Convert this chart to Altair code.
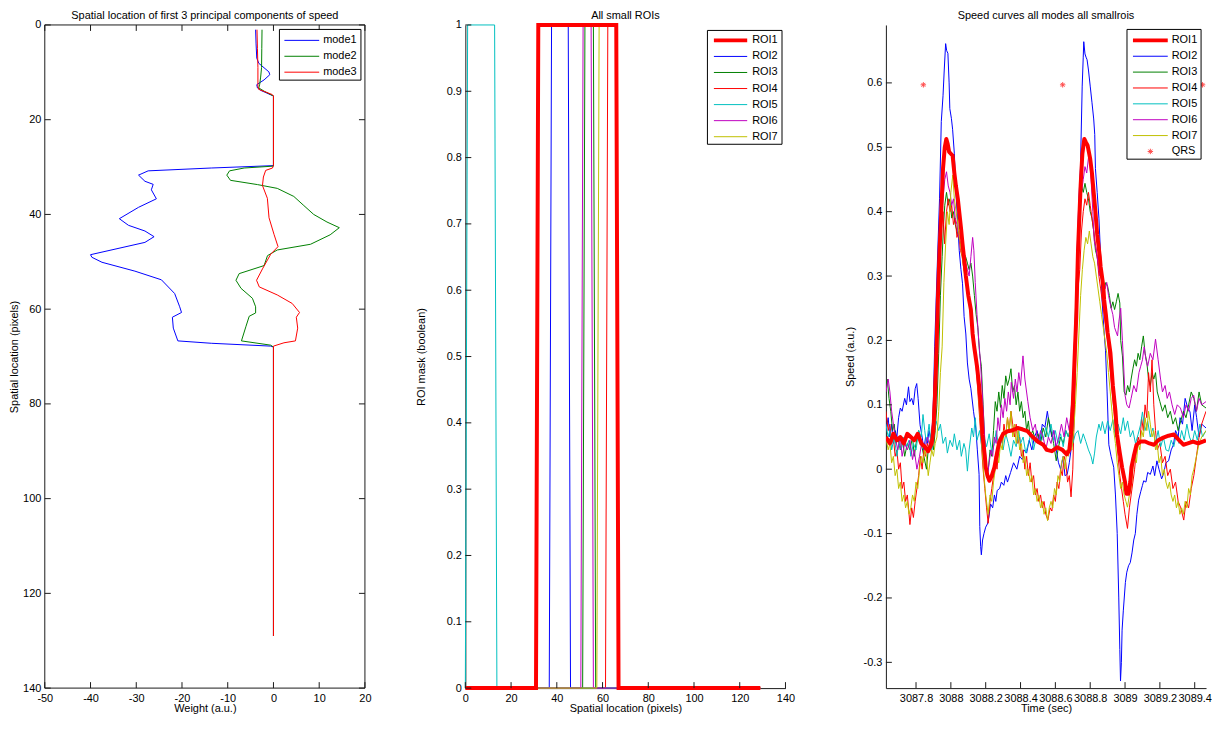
import altair as alt
import pandas as pd

FONT = "Liberation Sans"
AXC = "#1a1a1a"
W, H = 322, 667
TK = 6

# ---------------- Panel 1: spatial weights (location, weight) ----------------
mode1 = [(1, -3.9), (4, -3.8), (7, -3.65), (8.1, -3.2), (9.9, -1.0), (10.5, -0.8), (11.6, -2.05),
         (12.6, -3.65), (13.3, -3.5), (13.8, -2.8), (15, 0), (29.7, 0), (30.2, -13.6), (30.8, -27.4),
         (31.7, -29.5), (33.0, -28.1), (33.65, -26.3), (34.8, -26.7), (36.7, -25.6), (38.5, -29.5),
         (40.9, -33.7), (42.3, -31.7), (43.5, -28.1), (44.7, -26.1), (45.9, -28.1), (48.5, -40.0),
         (49.05, -39.7), (50.1, -37.5), (51.97, -30.3), (53.8, -24.5), (56.7, -21.6), (59.5, -20.5),
         (60.7, -20.1), (61.7, -22.1), (64.0, -21.9), (66.7, -20.9), (67.2, -13.6), (67.8, -0.6),
         (68, 0), (129, 0)]
mode2 = [(1, -2.5), (5, -2.55), (9, -2.6), (11, -2.8), (12.5, -3.0), (13.3, -3.2), (14.0, -2.0),
         (15, 0), (29.8, 0), (30.2, -6.4), (30.8, -9.6), (31.7, -10.2), (32.8, -9.4), (33.7, -3.5),
         (34.5, 0.84), (36.2, 4.45), (38, 6.5), (40.0, 8.8), (41.6, 11.7), (42.8, 14.4), (44.3, 12.4),
         (46.3, 8.1), (47.5, 0.84), (48.7, -1.3), (50.8, -2.05), (52.5, -7.5), (53.9, -8.2),
         (55.6, -7.1), (57.7, -4.6), (59.5, -3.9), (60.8, -3.9), (61.5, -5.3), (63.6, -6.0),
         (66.7, -7.0), (67.6, -0.6), (68, 0), (129, 0)]
mode3 = [(1, -3.6), (5, -3.5), (9, -3.4), (13, -3.4), (13.6, -3.2), (14.7, -0.25), (15, 0),
         (29.6, 0), (30.2, -0.2), (30.7, -1.7), (32.1, -2.2), (33.9, -2.4), (36.6, -1.33),
         (40.7, -0.97), (44.2, 0.12), (46.8, 1.0), (48.4, -0.6), (51.5, -2.4), (53.9, -3.7),
         (55.3, -3.1), (57.0, 0.84), (58.8, 4.1), (60.7, 5.7), (61.7, 5.0), (64.0, 5.3), (66.7, 4.8),
         (67.1, 2.3), (67.8, 0), (129, 0)]
mode_names = ["mode1", "mode2", "mode3"]
mode_colors = ["#0000FF", "#008000", "#FF0000"]
p1_xticks = [-50, -40, -30, -20, -10, 0, 10, 20]
p1_yticks = [0, 20, 40, 60, 80, 100, 120, 140]

# ---------------- Panel 2: ROI masks ----------------
roi_names = ["ROI1", "ROI2", "ROI3", "ROI4", "ROI5", "ROI6", "ROI7"]
roi_colors = ["#FF0000", "#0000FF", "#008000", "#FF0000", "#00BFBF", "#BF00BF", "#BFBF00"]
roi_widths = [4, 1, 1, 1, 1, 1, 1]
roi_on = [31.9, 37.7, 52.3, 62.3, 1.0, 51.5, 58.5]     # first location at 1
roi_off = [66.0, 45.0, 56.0, 66.0, 12.8, 55.0, 66.0]   # last location at 1
roi_last = 129
p2_xticks = [0, 20, 40, 60, 80, 100, 120, 140]
p2_yticks = [0, 0.1, 0.2, 0.3, 0.4, 0.5, 0.6, 0.7, 0.8, 0.9, 1]

# ---------------- Panel 3: speed curves (time offset from 3087 s, speed) ----------------
T0 = 3087.0
roi1 = [(0.627, 0.050), (0.650, 0.040), (0.670, 0.055), (0.690, 0.045), (0.710, 0.050), (0.730, 0.040),
        (0.750, 0.055), (0.770, 0.050), (0.790, 0.045), (0.810, 0.055), (0.830, 0.040), (0.850, 0.035),
        (0.870, 0.028), (0.890, 0.040), (0.900, 0.060), (0.910, 0.120), (0.918, 0.187), (0.925, 0.260),
        (0.935, 0.340), (0.945, 0.400), (0.955, 0.467), (0.965, 0.500), (0.974, 0.513), (0.982, 0.505),
        (0.990, 0.493), (1.000, 0.490), (1.010, 0.487), (1.020, 0.460), (1.029, 0.440), (1.040, 0.420),
        (1.048, 0.400), (1.058, 0.375), (1.067, 0.350), (1.077, 0.325), (1.086, 0.300), (1.100, 0.270),
        (1.115, 0.248), (1.125, 0.210), (1.134, 0.190), (1.150, 0.160), (1.162, 0.130), (1.175, 0.090),
        (1.181, 0.054), (1.195, 0.020), (1.200, 0.003), (1.210, -0.010), (1.221, -0.018), (1.235, -0.010),
        (1.250, 0.003), (1.265, 0.025), (1.278, 0.043), (1.300, 0.055), (1.326, 0.059), (1.350, 0.060),
        (1.383, 0.064), (1.410, 0.062), (1.440, 0.059), (1.470, 0.050), (1.498, 0.043), (1.530, 0.038),
        (1.550, 0.030), (1.580, 0.028), (1.610, 0.034), (1.640, 0.030), (1.665, 0.023), (1.680, 0.030),
        (1.690, 0.054), (1.700, 0.100), (1.710, 0.170), (1.720, 0.237), (1.730, 0.340), (1.745, 0.440),
        (1.755, 0.490), (1.766, 0.513), (1.775, 0.508), (1.785, 0.503), (1.800, 0.482), (1.810, 0.460),
        (1.820, 0.430), (1.830, 0.400), (1.840, 0.365), (1.855, 0.330), (1.860, 0.314), (1.875, 0.285),
        (1.880, 0.263), (1.890, 0.240), (1.900, 0.212), (1.916, 0.181), (1.930, 0.130), (1.945, 0.090),
        (1.954, 0.054), (1.970, 0.025), (1.983, 0.003), (2.000, -0.020), (2.008, -0.038), (2.020, -0.038),
        (2.030, -0.020), (2.037, 0.003), (2.050, 0.020), (2.066, 0.038), (2.090, 0.043), (2.115, 0.043),
        (2.140, 0.040), (2.166, 0.038), (2.190, 0.045), (2.220, 0.049), (2.250, 0.052), (2.280, 0.054),
        (2.310, 0.045), (2.335, 0.038), (2.360, 0.040), (2.390, 0.043), (2.420, 0.040), (2.465, 0.045)]
roi2 = [(0.627, 0.06), (0.64, 0.08), (0.65, 0.05), (0.66, 0.07), (0.67, 0.04), (0.68, 0.06), (0.69, 0.05),
        (0.70, 0.08), (0.71, 0.095), (0.72, 0.09), (0.735, 0.11), (0.745, 0.10), (0.757, 0.128),
        (0.765, 0.105), (0.775, 0.11), (0.785, 0.10), (0.795, 0.125), (0.804, 0.133), (0.812, 0.11),
        (0.823, 0.069), (0.835, 0.05), (0.845, 0.03), (0.855, 0.05), (0.865, 0.04), (0.875, 0.06),
        (0.885, 0.045), (0.897, 0.08), (0.907, 0.19), (0.92, 0.30), (0.935, 0.42), (0.945, 0.54),
        (0.955, 0.58), (0.962, 0.62), (0.97, 0.661), (0.976, 0.65), (0.983, 0.646), (0.99, 0.60),
        (0.994, 0.56), (1.003, 0.545), (1.01, 0.528), (1.02, 0.49), (1.029, 0.43), (1.04, 0.38),
        (1.048, 0.34), (1.058, 0.31), (1.067, 0.288), (1.076, 0.237), (1.086, 0.21), (1.095, 0.165),
        (1.105, 0.14), (1.115, 0.125), (1.13, 0.09), (1.143, 0.064), (1.152, 0.03), (1.162, -0.008),
        (1.166, -0.089), (1.171, -0.12), (1.175, -0.133), (1.182, -0.11), (1.19, -0.10), (1.20, -0.09),
        (1.21, -0.085), (1.218, -0.075), (1.228, -0.054), (1.24, -0.06), (1.25, -0.04), (1.258, -0.05),
        (1.266, -0.033), (1.28, -0.03), (1.29, -0.02), (1.304, -0.025), (1.315, -0.01), (1.325, -0.02),
        (1.343, -0.005), (1.36, 0.01), (1.379, 0.0), (1.395, 0.02), (1.41, 0.015), (1.419, 0.03),
        (1.435, 0.025), (1.45, 0.045), (1.465, 0.03), (1.48, 0.05), (1.495, 0.06), (1.51, 0.04),
        (1.525, 0.07), (1.54, 0.065), (1.554, 0.09), (1.565, 0.07), (1.58, 0.05), (1.592, 0.06),
        (1.605, 0.03), (1.618, 0.01), (1.63, 0.0), (1.645, 0.02), (1.655, -0.01), (1.668, -0.008),
        (1.68, 0.01), (1.69, 0.03), (1.703, 0.05), (1.71, 0.12), (1.715, 0.187), (1.725, 0.34),
        (1.735, 0.42), (1.744, 0.467), (1.754, 0.595), (1.76, 0.64), (1.763, 0.664), (1.77, 0.645),
        (1.776, 0.64), (1.782, 0.636), (1.79, 0.62), (1.80, 0.595), (1.81, 0.57), (1.82, 0.544),
        (1.826, 0.52), (1.83, 0.467), (1.84, 0.43), (1.85, 0.39), (1.86, 0.33), (1.868, 0.263),
        (1.878, 0.22), (1.888, 0.184), (1.897, 0.12), (1.907, 0.038), (1.92, 0.02), (1.935, 0.003),
        (1.945, -0.04), (1.955, -0.10), (1.964, -0.20), (1.97, -0.28), (1.974, -0.329), (1.979, -0.30),
        (1.983, -0.25), (1.99, -0.22), (2.002, -0.176), (2.01, -0.16), (2.02, -0.15), (2.03, -0.145),
        (2.04, -0.13), (2.05, -0.11), (2.059, -0.10), (2.068, -0.07), (2.078, -0.048), (2.09, -0.035),
        (2.10, -0.025), (2.107, -0.018), (2.12, -0.02), (2.13, -0.005), (2.145, -0.008), (2.16, 0.005),
        (2.17, -0.01), (2.183, 0.013), (2.195, 0.0), (2.21, -0.015), (2.22, -0.008), (2.235, 0.01),
        (2.25, 0.013), (2.265, 0.03), (2.278, 0.038), (2.29, 0.06), (2.305, 0.05), (2.316, 0.08),
        (2.33, 0.07), (2.345, 0.11), (2.36, 0.095), (2.373, 0.089), (2.385, 0.06), (2.40, 0.10),
        (2.411, 0.08), (2.425, 0.05), (2.44, 0.07), (2.465, 0.064)]
roi3 = [(0.627, 0.13), (0.635, 0.14), (0.645, 0.11), (0.655, 0.09), (0.665, 0.06), (0.675, 0.07),
        (0.685, 0.04), (0.695, 0.05), (0.71, 0.03), (0.72, 0.05), (0.735, 0.02), (0.75, 0.04), (0.765, 0.03),
        (0.78, 0.05), (0.79, 0.02), (0.80, 0.04), (0.815, 0.06), (0.83, 0.04), (0.845, 0.02), (0.86, 0.0),
        (0.87, 0.03), (0.885, 0.05), (0.90, 0.03), (0.91, 0.06), (0.92, 0.10), (0.93, 0.18), (0.94, 0.27),
        (0.95, 0.33), (0.958, 0.38), (0.965, 0.41), (0.975, 0.43), (0.985, 0.41), (0.995, 0.42),
        (1.005, 0.39), (1.015, 0.40), (1.025, 0.38), (1.035, 0.37), (1.045, 0.36), (1.055, 0.35),
        (1.065, 0.34), (1.075, 0.335), (1.085, 0.33), (1.095, 0.32), (1.105, 0.31), (1.115, 0.32),
        (1.125, 0.30), (1.135, 0.27), (1.145, 0.24), (1.155, 0.22), (1.165, 0.18), (1.175, 0.16),
        (1.185, 0.10), (1.195, 0.04), (1.205, -0.013), (1.215, 0.0), (1.225, 0.03), (1.235, 0.02),
        (1.245, 0.06), (1.255, 0.105), (1.265, 0.09), (1.275, 0.12), (1.285, 0.096), (1.295, 0.13),
        (1.305, 0.11), (1.315, 0.145), (1.325, 0.13), (1.335, 0.14), (1.345, 0.156), (1.355, 0.12),
        (1.365, 0.13), (1.375, 0.10), (1.385, 0.12), (1.395, 0.09), (1.405, 0.105), (1.415, 0.08),
        (1.425, 0.09), (1.435, 0.06), (1.445, 0.075), (1.455, 0.05), (1.47, 0.06), (1.485, 0.045),
        (1.50, 0.055), (1.515, 0.04), (1.53, 0.064), (1.545, 0.05), (1.56, 0.08), (1.575, 0.06),
        (1.59, 0.04), (1.605, 0.013), (1.615, 0.03), (1.63, 0.05), (1.645, 0.04), (1.66, 0.06),
        (1.675, 0.05), (1.69, 0.07), (1.70, 0.12), (1.71, 0.20), (1.72, 0.29), (1.73, 0.36), (1.74, 0.40),
        (1.75, 0.44), (1.76, 0.43), (1.77, 0.444), (1.78, 0.43), (1.79, 0.42), (1.80, 0.40), (1.81, 0.39),
        (1.82, 0.37), (1.83, 0.34), (1.84, 0.33), (1.85, 0.31), (1.86, 0.30), (1.87, 0.29), (1.88, 0.28),
        (1.89, 0.29), (1.90, 0.284), (1.91, 0.27), (1.92, 0.25), (1.93, 0.26), (1.94, 0.248), (1.95, 0.26),
        (1.96, 0.273), (1.97, 0.258), (1.975, 0.20), (1.985, 0.176), (1.995, 0.12), (2.005, 0.115),
        (2.015, 0.13), (2.025, 0.12), (2.035, 0.14), (2.045, 0.156), (2.055, 0.17), (2.065, 0.16),
        (2.075, 0.18), (2.085, 0.17), (2.095, 0.19), (2.105, 0.207), (2.115, 0.18), (2.125, 0.166),
        (2.135, 0.14), (2.145, 0.13), (2.155, 0.15), (2.165, 0.14), (2.175, 0.15), (2.185, 0.12),
        (2.20, 0.105), (2.215, 0.09), (2.23, 0.10), (2.245, 0.08), (2.26, 0.09), (2.275, 0.07), (2.29, 0.08),
        (2.305, 0.06), (2.32, 0.075), (2.335, 0.09), (2.35, 0.08), (2.365, 0.10), (2.38, 0.12),
        (2.395, 0.11), (2.41, 0.09), (2.425, 0.12), (2.44, 0.10), (2.465, 0.095)]
roi4 = [(0.627, 0.09), (0.64, 0.06), (0.65, 0.07), (0.66, 0.04), (0.67, 0.05), (0.68, 0.02), (0.69, 0.03),
        (0.70, 0.0), (0.71, 0.01), (0.72, -0.03), (0.73, -0.02), (0.74, -0.05), (0.75, -0.04), (0.76, -0.07),
        (0.765, -0.086), (0.775, -0.06), (0.785, -0.075), (0.795, -0.05), (0.805, -0.03), (0.815, -0.01),
        (0.825, 0.02), (0.835, 0.0), (0.845, 0.03), (0.855, 0.02), (0.865, 0.04), (0.875, 0.03),
        (0.885, 0.05), (0.895, 0.07), (0.905, 0.14), (0.915, 0.22), (0.925, 0.28), (0.935, 0.34),
        (0.945, 0.37), (0.955, 0.40), (0.964, 0.35), (0.975, 0.40), (0.985, 0.42), (0.995, 0.40),
        (1.005, 0.41), (1.015, 0.38), (1.025, 0.39), (1.035, 0.36), (1.045, 0.37), (1.055, 0.34),
        (1.065, 0.33), (1.075, 0.31), (1.085, 0.30), (1.095, 0.28), (1.105, 0.26), (1.115, 0.24),
        (1.125, 0.22), (1.135, 0.20), (1.145, 0.16), (1.155, 0.12), (1.165, 0.08), (1.175, 0.04),
        (1.185, 0.0), (1.195, -0.03), (1.205, -0.06), (1.214, -0.084), (1.225, -0.05), (1.235, -0.03),
        (1.245, -0.01), (1.255, 0.02), (1.265, 0.0), (1.275, 0.03), (1.285, 0.05), (1.295, 0.04),
        (1.305, 0.07), (1.315, 0.05), (1.325, 0.08), (1.335, 0.06), (1.345, 0.09), (1.355, 0.07),
        (1.365, 0.05), (1.375, 0.07), (1.385, 0.04), (1.395, 0.05), (1.405, 0.02), (1.415, 0.03),
        (1.425, 0.0), (1.435, 0.02), (1.445, -0.01), (1.455, 0.01), (1.465, -0.02), (1.475, -0.01),
        (1.485, -0.04), (1.495, -0.03), (1.505, -0.05), (1.515, -0.04), (1.525, -0.06), (1.535, -0.05),
        (1.545, -0.07), (1.557, -0.079), (1.57, -0.06), (1.58, -0.065), (1.59, -0.04), (1.60, -0.05),
        (1.61, -0.02), (1.62, -0.03), (1.63, 0.0), (1.64, -0.01), (1.65, 0.02), (1.66, 0.01), (1.67, -0.02),
        (1.68, -0.01), (1.69, -0.043), (1.70, 0.0), (1.71, 0.10), (1.72, 0.20), (1.73, 0.28), (1.74, 0.31),
        (1.75, 0.37), (1.76, 0.40), (1.77, 0.42), (1.78, 0.41), (1.79, 0.43), (1.80, 0.41), (1.81, 0.39),
        (1.82, 0.37), (1.83, 0.35), (1.84, 0.33), (1.85, 0.30), (1.86, 0.28), (1.87, 0.26), (1.88, 0.24),
        (1.89, 0.22), (1.90, 0.20), (1.91, 0.17), (1.92, 0.14), (1.93, 0.11), (1.94, 0.08), (1.95, 0.05),
        (1.96, 0.02), (1.97, -0.01), (1.98, -0.03), (1.99, -0.05), (2.0, -0.07), (2.014, -0.092),
        (2.025, -0.06), (2.035, -0.04), (2.045, -0.02), (2.055, 0.0), (2.065, 0.03), (2.075, 0.05),
        (2.085, 0.04), (2.095, 0.08), (2.105, 0.06), (2.115, 0.10), (2.125, 0.08), (2.135, 0.15),
        (2.145, 0.12), (2.155, 0.17), (2.165, 0.10), (2.175, 0.06), (2.185, 0.03), (2.20, 0.04),
        (2.215, 0.01), (2.23, 0.02), (2.245, -0.01), (2.26, 0.0), (2.275, -0.03), (2.29, -0.02),
        (2.305, -0.05), (2.32, -0.06), (2.337, -0.079), (2.35, -0.05), (2.365, -0.06), (2.38, -0.03),
        (2.395, -0.01), (2.41, 0.02), (2.425, 0.05), (2.44, 0.07), (2.465, 0.09)]
roi5 = [(0.627, 0.07), (0.64, 0.05), (0.65, 0.06), (0.66, 0.03), (0.675, 0.05), (0.69, 0.02), (0.70, 0.04),
        (0.715, 0.03), (0.73, 0.05), (0.745, 0.035), (0.76, 0.045), (0.77, 0.02), (0.785, 0.04),
        (0.80, 0.03), (0.815, 0.06), (0.83, 0.05), (0.84, 0.085), (0.85, 0.06), (0.86, 0.04), (0.875, 0.07),
        (0.89, 0.03), (0.90, 0.05), (0.915, 0.075), (0.93, 0.06), (0.94, 0.07), (0.955, 0.04), (0.97, 0.05),
        (0.98, 0.025), (0.995, 0.045), (1.01, 0.035), (1.02, 0.055), (1.035, 0.03), (1.05, 0.045),
        (1.06, 0.02), (1.075, 0.04), (1.085, 0.03), (1.095, -0.003), (1.105, 0.03), (1.12, 0.064),
        (1.13, 0.05), (1.14, 0.08), (1.15, 0.045), (1.165, 0.06), (1.18, 0.03), (1.19, 0.05), (1.205, 0.035),
        (1.22, 0.055), (1.235, 0.025), (1.25, 0.04), (1.26, 0.06), (1.275, 0.035), (1.29, 0.05), (1.30, 0.03),
        (1.315, 0.055), (1.33, 0.04), (1.345, 0.02), (1.36, 0.045), (1.375, 0.035), (1.39, 0.06),
        (1.40, 0.04), (1.415, 0.05), (1.43, 0.025), (1.445, 0.04), (1.46, 0.055), (1.475, 0.03),
        (1.49, 0.05), (1.505, 0.04), (1.52, 0.06), (1.53, 0.045), (1.545, 0.065), (1.56, 0.05),
        (1.575, 0.07), (1.59, 0.045), (1.60, 0.06), (1.615, 0.04), (1.63, 0.055), (1.645, 0.035),
        (1.66, 0.06), (1.675, 0.05), (1.69, 0.065), (1.70, 0.04), (1.715, 0.055), (1.73, 0.06),
        (1.745, 0.04), (1.76, 0.055), (1.775, 0.043), (1.79, 0.03), (1.805, 0.02), (1.815, 0.008),
        (1.825, 0.025), (1.835, 0.05), (1.85, 0.07), (1.86, 0.06), (1.87, 0.074), (1.885, 0.055),
        (1.90, 0.075), (1.915, 0.06), (1.93, 0.077), (1.945, 0.05), (1.96, 0.07), (1.975, 0.055),
        (1.99, 0.08), (2.0, 0.06), (2.015, 0.075), (2.03, 0.05), (2.045, 0.06), (2.06, 0.04), (2.075, 0.054),
        (2.09, 0.07), (2.10, 0.089), (2.115, 0.06), (2.13, 0.075), (2.145, 0.05), (2.16, 0.064),
        (2.175, 0.04), (2.19, 0.06), (2.205, 0.035), (2.22, 0.05), (2.235, 0.03), (2.25, 0.028),
        (2.265, 0.045), (2.28, 0.035), (2.295, 0.055), (2.31, 0.04), (2.325, 0.06), (2.34, 0.045),
        (2.355, 0.07), (2.37, 0.05), (2.385, 0.04), (2.40, 0.06), (2.415, 0.045), (2.43, 0.07),
        (2.445, 0.05), (2.465, 0.06)]
roi6 = [(0.627, 0.12), (0.64, 0.14), (0.65, 0.12), (0.66, 0.09), (0.67, 0.07), (0.68, 0.05), (0.695, 0.03),
        (0.71, 0.05), (0.72, 0.02), (0.735, 0.04), (0.75, 0.03), (0.765, 0.045), (0.78, 0.015), (0.79, 0.03),
        (0.805, 0.0), (0.82, 0.02), (0.835, 0.045), (0.85, 0.03), (0.865, 0.05), (0.88, 0.035),
        (0.895, 0.05), (0.905, 0.08), (0.915, 0.16), (0.925, 0.25), (0.935, 0.33), (0.945, 0.39),
        (0.955, 0.42), (0.965, 0.45), (0.975, 0.462), (0.985, 0.44), (0.995, 0.43), (1.005, 0.41),
        (1.015, 0.42), (1.025, 0.39), (1.035, 0.38), (1.045, 0.36), (1.055, 0.35), (1.065, 0.34),
        (1.075, 0.33), (1.085, 0.32), (1.095, 0.31), (1.105, 0.30), (1.115, 0.33), (1.125, 0.36),
        (1.132, 0.34), (1.14, 0.29), (1.15, 0.24), (1.16, 0.20), (1.17, 0.166), (1.18, 0.12), (1.19, 0.07),
        (1.20, 0.02), (1.21, -0.01), (1.22, 0.01), (1.23, 0.03), (1.24, 0.02), (1.25, 0.05), (1.26, 0.04),
        (1.27, 0.08), (1.28, 0.06), (1.29, 0.10), (1.30, 0.08), (1.31, 0.11), (1.32, 0.09), (1.33, 0.12),
        (1.34, 0.10), (1.347, 0.135), (1.36, 0.11), (1.37, 0.14), (1.38, 0.12), (1.39, 0.15), (1.40, 0.13),
        (1.414, 0.176), (1.425, 0.14), (1.442, 0.105), (1.455, 0.08), (1.47, 0.06), (1.485, 0.07),
        (1.50, 0.04), (1.515, 0.06), (1.53, 0.05), (1.545, 0.03), (1.56, 0.05), (1.575, 0.04), (1.59, 0.06),
        (1.605, 0.035), (1.62, 0.05), (1.635, 0.07), (1.65, 0.05), (1.665, 0.08), (1.68, 0.06),
        (1.69, 0.09), (1.70, 0.13), (1.71, 0.20), (1.72, 0.28), (1.73, 0.35), (1.74, 0.40), (1.75, 0.43),
        (1.76, 0.45), (1.77, 0.47), (1.78, 0.46), (1.794, 0.493), (1.805, 0.45), (1.815, 0.40),
        (1.823, 0.355), (1.835, 0.34), (1.845, 0.32), (1.855, 0.30), (1.865, 0.31), (1.875, 0.29),
        (1.885, 0.28), (1.895, 0.29), (1.905, 0.27), (1.918, 0.253), (1.93, 0.24), (1.94, 0.22),
        (1.957, 0.207), (1.965, 0.23), (1.975, 0.25), (1.985, 0.20), (2.0, 0.115), (2.01, 0.10),
        (2.023, 0.095), (2.035, 0.11), (2.05, 0.13), (2.065, 0.12), (2.08, 0.15), (2.09, 0.16), (2.10, 0.17),
        (2.11, 0.19), (2.12, 0.17), (2.13, 0.16), (2.145, 0.18), (2.16, 0.17), (2.175, 0.202), (2.19, 0.17),
        (2.204, 0.14), (2.215, 0.12), (2.23, 0.13), (2.242, 0.11), (2.255, 0.12), (2.27, 0.10),
        (2.285, 0.085), (2.30, 0.10), (2.318, 0.095), (2.335, 0.08), (2.35, 0.10), (2.365, 0.09),
        (2.38, 0.11), (2.394, 0.115), (2.41, 0.09), (2.425, 0.11), (2.44, 0.10), (2.465, 0.105)]
roi7 = [(0.627, 0.05), (0.64, 0.03), (0.65, 0.04), (0.66, 0.01), (0.67, 0.02), (0.68, -0.01), (0.69, 0.0),
        (0.70, -0.03), (0.71, -0.02), (0.72, -0.05), (0.73, -0.04), (0.74, -0.06), (0.75, -0.05),
        (0.76, -0.07), (0.77, -0.06), (0.78, -0.04), (0.79, -0.05), (0.80, -0.02), (0.81, -0.03),
        (0.82, 0.0), (0.83, 0.02), (0.84, 0.01), (0.85, 0.03), (0.86, 0.02), (0.87, -0.01), (0.88, 0.01),
        (0.89, 0.03), (0.90, 0.02), (0.91, 0.04), (0.92, 0.05), (0.93, 0.09), (0.94, 0.15), (0.95, 0.19),
        (0.96, 0.29), (0.97, 0.35), (0.98, 0.40), (0.99, 0.38), (1.0, 0.43), (1.011, 0.457), (1.02, 0.42),
        (1.03, 0.40), (1.04, 0.38), (1.05, 0.36), (1.06, 0.34), (1.07, 0.32), (1.08, 0.30), (1.09, 0.29),
        (1.10, 0.27), (1.11, 0.25), (1.12, 0.23), (1.13, 0.21), (1.14, 0.18), (1.15, 0.15), (1.16, 0.11),
        (1.17, 0.07), (1.18, 0.03), (1.19, -0.01), (1.20, -0.04), (1.214, -0.07), (1.225, -0.04),
        (1.235, -0.05), (1.245, -0.02), (1.255, 0.0), (1.265, 0.02), (1.275, 0.01), (1.285, 0.04),
        (1.295, 0.03), (1.305, 0.06), (1.315, 0.05), (1.325, 0.08), (1.335, 0.06), (1.345, 0.09),
        (1.355, 0.05), (1.365, 0.07), (1.375, 0.04), (1.385, 0.06), (1.395, 0.03), (1.405, 0.04),
        (1.415, 0.01), (1.425, 0.02), (1.435, -0.01), (1.445, 0.0), (1.455, -0.02), (1.465, -0.01),
        (1.475, -0.04), (1.485, -0.03), (1.495, -0.05), (1.505, -0.04), (1.515, -0.06), (1.525, -0.05),
        (1.535, -0.07), (1.545, -0.06), (1.555, -0.08), (1.565, -0.06), (1.575, -0.05), (1.585, -0.06),
        (1.595, -0.03), (1.605, -0.04), (1.615, -0.01), (1.625, -0.02), (1.635, 0.01), (1.645, 0.02),
        (1.655, 0.0), (1.665, 0.03), (1.675, 0.02), (1.685, 0.04), (1.695, 0.03), (1.705, 0.06),
        (1.715, 0.10), (1.725, 0.15), (1.735, 0.21), (1.745, 0.27), (1.755, 0.31), (1.765, 0.34),
        (1.775, 0.36), (1.785, 0.35), (1.795, 0.37), (1.805, 0.35), (1.815, 0.33), (1.825, 0.32),
        (1.835, 0.30), (1.845, 0.28), (1.855, 0.26), (1.865, 0.24), (1.875, 0.22), (1.885, 0.20),
        (1.895, 0.18), (1.905, 0.15), (1.915, 0.12), (1.925, 0.09), (1.935, 0.06), (1.945, 0.04),
        (1.955, 0.01), (1.965, -0.01), (1.975, -0.03), (1.985, -0.02), (1.995, -0.04), (2.005, -0.05),
        (2.014, -0.059), (2.025, -0.04), (2.035, -0.03), (2.045, 0.0), (2.055, 0.02), (2.065, 0.01),
        (2.075, 0.04), (2.085, 0.03), (2.095, 0.06), (2.105, 0.05), (2.115, 0.08), (2.125, 0.06),
        (2.135, 0.09), (2.145, 0.07), (2.155, 0.05), (2.165, 0.06), (2.175, 0.03), (2.185, 0.04),
        (2.195, 0.01), (2.205, 0.02), (2.215, -0.01), (2.225, 0.0), (2.235, -0.02), (2.245, -0.03),
        (2.255, -0.02), (2.265, -0.04), (2.275, -0.05), (2.285, -0.04), (2.295, -0.06), (2.305, -0.05),
        (2.315, -0.07), (2.325, -0.06), (2.335, -0.07), (2.345, -0.05), (2.355, -0.06), (2.365, -0.03),
        (2.375, -0.04), (2.385, -0.01), (2.395, 0.0), (2.41, 0.02), (2.425, 0.04), (2.44, 0.05),
        (2.465, 0.06)]
roi_series = [roi1, roi2, roi3, roi4, roi5, roi6, roi7]
qrs_t = [3087.842, 3088.642, 3089.445]
qrs_v = [0.597, 0.597, 0.597]
p3_xticks = [3087.8, 3088.0, 3088.2, 3088.4, 3088.6, 3088.8, 3089.0, 3089.2, 3089.4]
p3_yticks = [-0.3, -0.2, -0.1, 0, 0.1, 0.2, 0.3, 0.4, 0.5, 0.6]

titles = ["Spatial location of first 3 principal components of speed", "All small ROIs",
          "Speed curves all modes all smallrois"]

ASTERISK = "M-1,0L1,0M0,-1L0,1M-0.7,-0.7L0.7,0.7M-0.7,0.7L0.7,-0.7"
ONE = pd.DataFrame({"k": [0]})


def tick_layers(xvals, yvals, xs, ys, axx, axy, box=False):
    out = []
    dx = pd.DataFrame({"v": xvals})
    dy = pd.DataFrame({"v": yvals})
    out.append(alt.Chart(dx).mark_rule(color=AXC, strokeWidth=1).encode(
        x=alt.X("v:Q", scale=xs, axis=axx), y=alt.value(H), y2=alt.value(H - TK)))
    out.append(alt.Chart(dy).mark_rule(color=AXC, strokeWidth=1).encode(
        y=alt.Y("v:Q", scale=ys, axis=axy), x=alt.value(0), x2=alt.value(TK)))
    if box:
        out.append(alt.Chart(dx).mark_rule(color=AXC, strokeWidth=1).encode(
            x=alt.X("v:Q", scale=xs, axis=axx), y=alt.value(0), y2=alt.value(TK)))
        out.append(alt.Chart(dy).mark_rule(color=AXC, strokeWidth=1).encode(
            y=alt.Y("v:Q", scale=ys, axis=axy), x=alt.value(W - TK), x2=alt.value(W)))
        out.append(alt.Chart(ONE).mark_rect(fill=None, stroke=AXC, strokeWidth=1).encode(
            x=alt.value(0), x2=alt.value(W), y=alt.value(0), y2=alt.value(H)))
    return out


def legend_layers(names, colors, widths, box, line_x, text_x, row0, step, qrs_name=None):
    out = [alt.Chart(ONE).mark_rect(fill="white", stroke="black", strokeWidth=1).encode(
        x=alt.value(box[0]), x2=alt.value(box[1]), y=alt.value(box[2]), y2=alt.value(box[3]))]
    for i, name in enumerate(names):
        ry = row0 + i * step
        if name == qrs_name:
            out.append(alt.Chart(ONE).mark_point(shape=ASTERISK, size=30, filled=False,
                                                 color=colors[i], strokeWidth=1).encode(
                x=alt.value((line_x[0] + line_x[1]) / 2), y=alt.value(ry)))
        else:
            out.append(alt.Chart(ONE).mark_rule(color=colors[i], strokeWidth=widths[i]).encode(
                x=alt.value(line_x[0]), x2=alt.value(line_x[1]), y=alt.value(ry)))
        out.append(alt.Chart(ONE).mark_text(align="left", baseline="middle", fontSize=11,
                                            font=FONT, color="black").encode(
            x=alt.value(text_x), y=alt.value(ry), text=alt.value(name)))
    return out


def title_layer(text):
    return alt.Chart(ONE).mark_text(align="center", baseline="middle", fontSize=11, font=FONT,
                                    color="black").encode(
        x=alt.value(W / 2), y=alt.value(-9), text=alt.value(text))


LBL = "'' + datum.value"

# ---------------- Panel 1 ----------------
xs1 = alt.Scale(domain=[-50, 20], nice=False, zero=False)
ys1 = alt.Scale(domain=[0, 140], nice=False, zero=False, reverse=True)
ax1x = alt.Axis(title="Weight (a.u.)", values=p1_xticks, labelExpr=LBL, domain=False, ticks=False,
                grid=False, labelPadding=4, titlePadding=0, labelFlush=False, labelOverlap=False)
ax1y = alt.Axis(title="Spatial location (pixels)", values=p1_yticks, labelExpr=LBL, domain=False,
                ticks=False, grid=False, labelPadding=4, titlePadding=3, labelOverlap=False)
p1_layers = []
for pts, col in zip([mode1, mode2, mode3], mode_colors):
    df = pd.DataFrame({"s": [a for a, b in pts], "w": [b for a, b in pts], "o": list(range(len(pts)))})
    p1_layers.append(alt.Chart(df).mark_line(color=col, strokeWidth=1).encode(
        x=alt.X("w:Q", scale=xs1, axis=ax1x), y=alt.Y("s:Q", scale=ys1, axis=ax1y), order="o:Q"))
p1_layers += tick_layers(p1_xticks, p1_yticks, xs1, ys1, ax1x, ax1y, box=True)
p1_layers += legend_layers(mode_names, mode_colors, [1, 1, 1], (W - 86, W - 4, 4.5, 55.5),
                           (W - 81, W - 46), W - 42, 15.5, 16)
p1_layers.append(title_layer(titles[0]))
p1 = alt.layer(*p1_layers).properties(width=W, height=H)

# ---------------- Panel 2 ----------------
xs2 = alt.Scale(domain=[0, 140], nice=False, zero=False)
ys2 = alt.Scale(domain=[0, 1], nice=False, zero=False)
ax2x = alt.Axis(title="Spatial location (pixels)", values=p2_xticks, labelExpr=LBL, domain=True,
                domainColor=AXC, ticks=False, grid=False, labelPadding=4, titlePadding=0,
                labelFlush=False, labelOverlap=False)
ax2y = alt.Axis(title="ROI mask (boolean)", values=p2_yticks, labelExpr=LBL, domain=True,
                domainColor=AXC, ticks=False, grid=False, labelPadding=4, titlePadding=20,
                labelOverlap=False)
p2_layers = []
for i in [1, 2, 3, 4, 5, 6, 0]:
    on, off = roi_on[i], roi_off[i]
    xs_ = [0, on - 1, on, off, off + 1, roi_last]
    ys_ = [0, 0, 1, 1, 0, 0]
    df = pd.DataFrame({"x": xs_, "m": ys_, "o": list(range(len(xs_)))})
    p2_layers.append(alt.Chart(df).mark_line(color=roi_colors[i], strokeWidth=roi_widths[i]).encode(
        x=alt.X("x:Q", scale=xs2, axis=ax2x), y=alt.Y("m:Q", scale=ys2, axis=ax2y), order="o:Q"))
p2_layers += tick_layers(p2_xticks, p2_yticks, xs2, ys2, ax2x, ax2y)
p2_layers += legend_layers(roi_names, roi_colors, roi_widths, (W - 78.5, W - 3.5, 5.5, 120),
                           (W - 72, W - 38.5), W - 33.5, 15.5, 16.15)
p2_layers.append(title_layer(titles[1]))
p2 = alt.layer(*p2_layers).properties(width=W, height=H)

# ---------------- Panel 3 ----------------
xs3 = alt.Scale(domain=[3087.627, 3089.465], nice=False, zero=False)
ys3 = alt.Scale(domain=[-0.34, 0.69], nice=False, zero=False)
ax3x = alt.Axis(title="Time (sec)", values=p3_xticks, labelExpr=LBL, domain=True, domainColor=AXC,
                ticks=False, grid=False, labelPadding=4, titlePadding=0, labelFlush=False,
                labelOverlap=False)
ax3y = alt.Axis(title="Speed (a.u.)", values=p3_yticks, labelExpr=LBL, domain=True, domainColor=AXC,
                ticks=False, grid=False, labelPadding=4, titlePadding=8, labelOverlap=False)
p3_layers = []
for i in [1, 2, 3, 4, 5, 6, 0]:
    pts = roi_series[i]
    df = pd.DataFrame({"t": [T0 + a for a, b in pts], "v": [b for a, b in pts],
                       "o": list(range(len(pts)))})
    p3_layers.append(alt.Chart(df).mark_line(color=roi_colors[i], strokeWidth=roi_widths[i],
                                             strokeJoin="round", clip=True).encode(
        x=alt.X("t:Q", scale=xs3, axis=ax3x), y=alt.Y("v:Q", scale=ys3, axis=ax3y), order="o:Q"))
qdf = pd.DataFrame({"t": qrs_t, "v": qrs_v})
p3_layers.append(alt.Chart(qdf).mark_point(shape=ASTERISK, size=30, filled=False, color="#FF0000",
                                           strokeWidth=1).encode(
    x=alt.X("t:Q", scale=xs3, axis=ax3x), y=alt.Y("v:Q", scale=ys3, axis=ax3y)))
p3_layers += tick_layers(p3_xticks, p3_yticks, xs3, ys3, ax3x, ax3y)
p3_layers += legend_layers(roi_names + ["QRS"], roi_colors + ["#FF0000"], roi_widths + [1],
                           (W - 79.5, W - 5, 4.5, 135), (W - 73.5, W - 38.5), W - 34.5, 15.5, 15.96,
                           qrs_name="QRS")
p3_layers.append(title_layer(titles[2]))
p3 = alt.layer(*p3_layers).properties(width=W, height=H)

chart = alt.hconcat(p1, p2, p3, spacing=101, bounds="flush").properties(
    padding={"left": 0, "top": 0, "right": 0, "bottom": 0}
).configure(font=FONT, background="white").configure_view(stroke=None).configure_axis(
    labelFontSize=11, titleFontSize=11, labelColor="black", titleColor="black",
    titleFontWeight="normal", labelFont=FONT, titleFont=FONT)

chart.save("out.html", embed_options={"renderer": "svg", "actions": False})
